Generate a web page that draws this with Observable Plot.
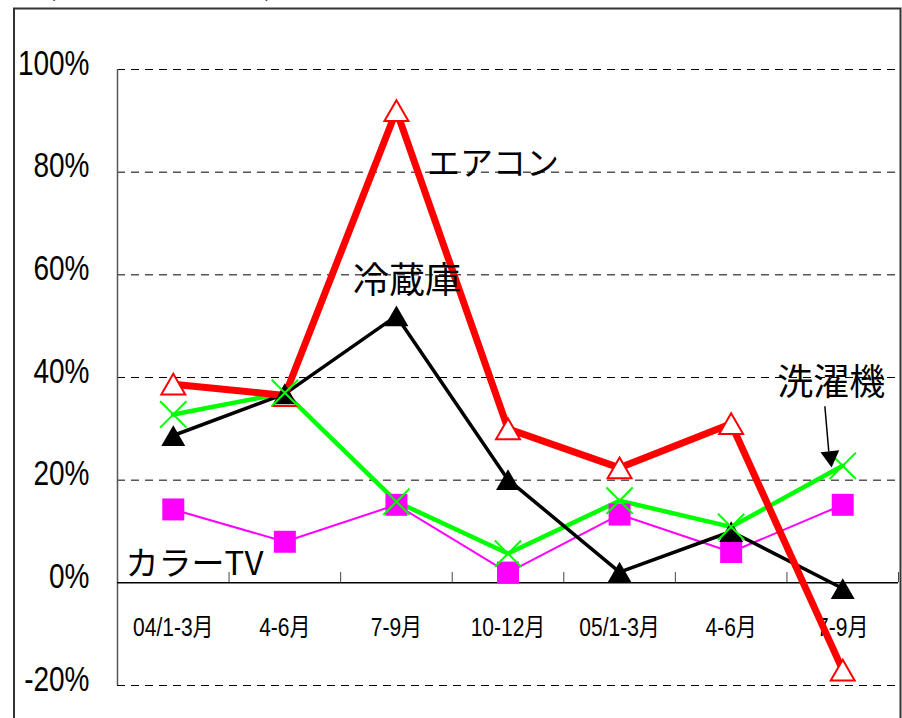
<!DOCTYPE html>
<html>
<head>
<meta charset="utf-8">
<script src="https://cdn.jsdelivr.net/npm/d3@7"></script>
<script src="https://cdn.jsdelivr.net/npm/@observablehq/plot@0.6"></script>
<style>
  html, body { margin: 0; padding: 0; background: white; }
</style>
</head>
<body>
<div id="chart"></div>
<script>
// ---- data ----
const periods = ["04/1-3月", "4-6月", "7-9月", "10-12月", "05/1-3月", "4-6月", "7-9月"];
const aircon  = [38.7, 36.5, 92, 30, 22.4, 31, -17];     // エアコン
const fridge  = [28.7, 36.8, 52, 20.1, 2.1, 10, -1.1];    // 冷蔵庫
const washer  = [32.8, 37, 15.8, 5.7, 16, 10.9, 22.8];    // 洗濯機
const colorTV = [14.3, 8, 15.2, 2, 13.3, 6, 15.2];        // カラーTV
const yTicks  = [-20, 0, 20, 40, 60, 80, 100];
const titleText = "(前年同期比伸び率)";

const idx = d3.range(periods.length);
const toRows = arr => arr.map((v, i) => ({i, v}));
const A = toRows(aircon), F = toRows(fridge), W = toRows(washer), T = toRows(colorTV);

const latin = "'Liberation Sans', Arial, 'Noto Sans CJK JP', sans-serif";
const jp = "'Noto Sans CJK JP', sans-serif";

const kanjiLabels = [
  {name: "冷蔵庫",  x: 2.094, y: 58.8},
  {name: "洗濯機",  x: 5.897, y: 38.9}
];
const kanaLabels = [
  {name: "エアコン", x: 2.865, y: 81.6},
  {name: "カラーTV", x: 0.19, y: 3.5}
];

const chart = Plot.plot({
  width: 902,
  height: 718,
  marginLeft: 117,
  marginRight: 4,
  marginTop: 69,
  marginBottom: 33,
  x: {domain: [-0.5, 6.5], axis: null},
  y: {domain: [-20, 100], axis: null},
  style: {fontFamily: latin, background: "white", color: "black"},
  marks: [
    // outer border
    Plot.frame({stroke: "#333", strokeWidth: 2, insetLeft: -103.5, insetTop: -61, insetRight: -2, insetBottom: -60}),
    // title (mostly cut off at top, as in the original)
    Plot.text([titleText], {frameAnchor: "top-left", dx: -70, dy: -74, textAnchor: "start", lineAnchor: "bottom", fontSize: 26, fontFamily: jp}),
    // dashed gridlines
    Plot.ruleY(yTicks.filter(d => d !== 0), {stroke: "black", strokeWidth: 1, strokeDasharray: "8,6", insetRight: 3}),
    // y axis line
    Plot.ruleX([-0.5], {stroke: "#555", strokeWidth: 1.5}),
    // zero axis line
    Plot.ruleY([0], {stroke: "black", strokeWidth: 1.5}),
    // category ticks (upwards from zero line)
    Plot.ruleX(idx.map(i => i + 0.5), {y1: 0, y2: 2, stroke: "#444", strokeWidth: 1}),
    // y tick labels
    Plot.axisY(yTicks, {tickSize: 0, tickPadding: 28, tickFormat: d => d + "%", fontSize: 35, dy: -6, label: null, fill: "black", className: "narrowy"}),
    // x category labels
    Plot.text(idx, {x: d => d, y: -8.8, text: d => periods[d], fontSize: 25, fill: "black", className: "narrowx"}),
    // lines
    Plot.line(T, {x: "i", y: "v", stroke: "#ff00ff", strokeWidth: 2}),
    Plot.line(W, {x: "i", y: "v", stroke: "#00ff00", strokeWidth: 4.5}),
    Plot.line(F, {x: "i", y: "v", stroke: "black", strokeWidth: 3.5}),
    Plot.line(A, {x: "i", y: "v", stroke: "#ff0000", strokeWidth: 7}),
    // markers
    Plot.dot(T, {x: "i", y: "v", symbol: "square", r: 12.4, fill: "#ff00ff", stroke: "none"}),
    Plot.dot(A, {x: "i", y: "v", symbol: "triangle", r: 8.9, dy: 3.5, fill: "white", stroke: "#ff0000", strokeWidth: 2}),
    Plot.dot(F, {x: "i", y: "v", symbol: "triangle", r: 8.9, dy: 3.5, fill: "black", stroke: "none"}),
    Plot.dot(W, {x: "i", y: "v", symbol: "times", r: 12, stroke: "#00ff00", strokeWidth: 2}),
    // arrow to 洗濯機
    Plot.link([0], {x1: 5.84, y1: 34.4, x2: 5.875, y2: 25.6, stroke: "black", strokeWidth: 1.5}),
    Plot.dot([0], {x: 5.89, y: 24.6, symbol: "triangle", r: 7, rotate: 174, fill: "black", stroke: "none"}),
    // series labels
    Plot.text(kanjiLabels, {x: "x", y: "y", text: "name", fontSize: 36, fontFamily: jp, fill: "black"}),
    Plot.text(kanaLabels, {x: "x", y: "y", text: "name", fontSize: 33, fontFamily: jp, fill: "black"})
  ]
});

// condense the Latin tick labels horizontally (the original uses a narrow face)
function condense(sel, k) {
  d3.select(chart).selectAll(sel + " text").each(function() {
    const t = this.getAttribute("transform") || "";
    this.setAttribute("transform", t + ` scale(${k},1)`);
  });
}
condense(".narrowy", 0.8);
condense(".narrowx", 0.84);

document.getElementById("chart").appendChild(chart);
</script>
</body>
</html>
